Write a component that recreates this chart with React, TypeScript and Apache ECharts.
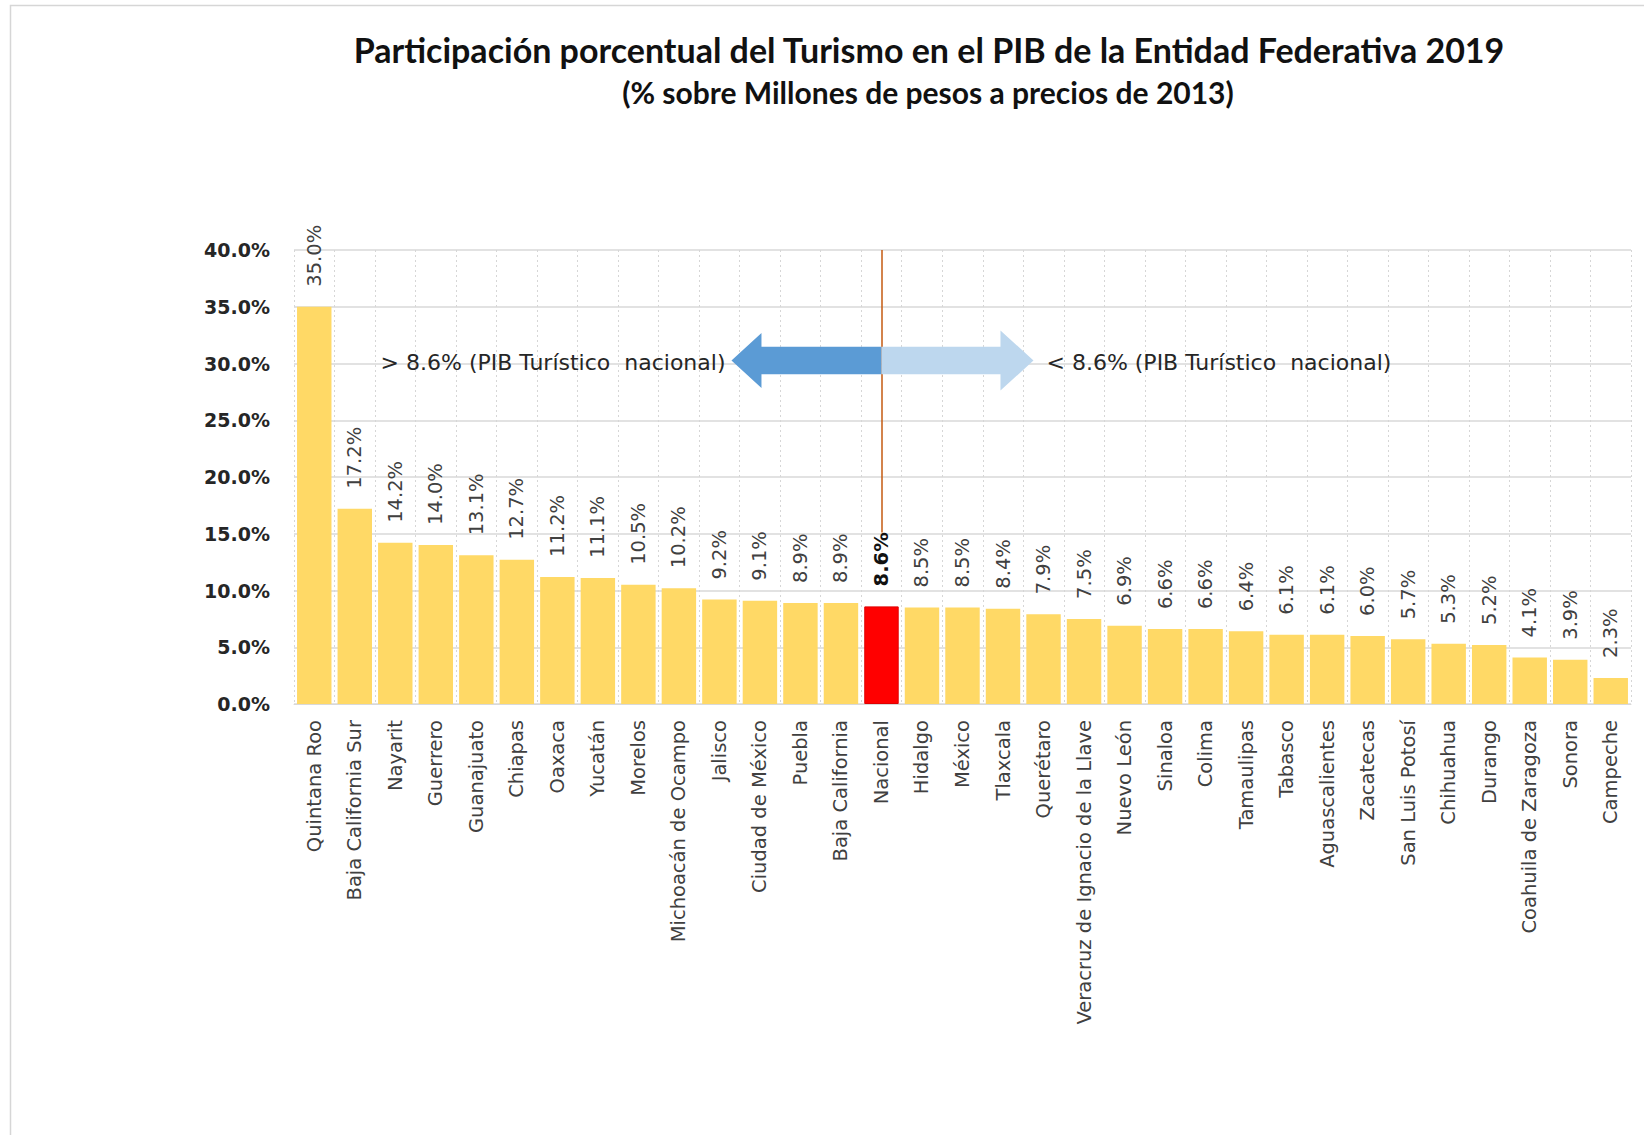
import React, { useEffect, useRef } from "react";
import * as echarts from "echarts";

const categories = [
  "Quintana Roo", "Baja California Sur", "Nayarit", "Guerrero", "Guanajuato", "Chiapas",
  "Oaxaca", "Yucatán", "Morelos", "Michoacán de Ocampo", "Jalisco", "Ciudad de México",
  "Puebla", "Baja California", "Nacional", "Hidalgo", "México", "Tlaxcala", "Querétaro",
  "Veracruz de Ignacio de la Llave", "Nuevo León", "Sinaloa", "Colima", "Tamaulipas",
  "Tabasco", "Aguascalientes", "Zacatecas", "San Luis Potosí", "Chihuahua", "Durango",
  "Coahuila de Zaragoza", "Sonora", "Campeche",
];
const values = [
  35.0, 17.2, 14.2, 14.0, 13.1, 12.7, 11.2, 11.1, 10.5, 10.2, 9.2, 9.1, 8.9, 8.9, 8.6,
  8.5, 8.5, 8.4, 7.9, 7.5, 6.9, 6.6, 6.6, 6.4, 6.1, 6.1, 6.0, 5.7, 5.3, 5.2, 4.1, 3.9, 2.3,
];
const highlightCategory = "Nacional";
const yMin = 0;
const yMax = 40;
const yInterval = 5;
const nationalLineTop = 40;
const nationalLineBottom = 15.1;
const arrowLevel = 30;
const titleText = "Participación porcentual del Turismo en el PIB de la Entidad Federativa 2019";
const subtitleText = "(% sobre Millones de pesos a precios de 2013)";
const leftNote = "> 8.6% (PIB Turístico  nacional)";
const rightNote = "< 8.6% (PIB Turístico  nacional)";

const TITLE_FONT = "Lato, 'Open Sans', sans-serif";
const FONT = "'DejaVu Sans', 'Open Sans', sans-serif";

export default function App() {
  const ref = useRef<HTMLDivElement>(null);
  useEffect(() => {
    document.body.style.margin = "0";
    const chart = echarts.init(ref.current!, undefined, { renderer: "svg" });
    const option: any = {
      animation: false,
      backgroundColor: "#ffffff",
      textStyle: { fontFamily: FONT },
      title: [
        {
          text: titleText,
          left: 924,
          top: 27,
          textAlign: "center",
          textStyle: { fontFamily: TITLE_FONT, fontSize: 34, fontWeight: "bold", color: "#111111" },
        },
        {
          text: subtitleText,
          left: 923,
          top: 72,
          textAlign: "center",
          textStyle: { fontFamily: TITLE_FONT, fontSize: 30, fontWeight: "bold", color: "#111111" },
        },
      ],
      grid: { left: 294, right: 13, top: 250, bottom: 431, containLabel: false },
      xAxis: {
        type: "category",
        data: categories,
        axisLine: { show: true, lineStyle: { color: "#D9D9D9", width: 1 } },
        axisTick: { show: false },
        splitLine: { show: true, lineStyle: { color: "#D6D6D6", type: [2, 3], width: 1 } },
        axisLabel: {
          rotate: 90,
          interval: 0,
          margin: 16,
          fontFamily: FONT,
          fontSize: 19.5,
          color: "#404040",
        },
      },
      yAxis: {
        type: "value",
        min: yMin,
        max: yMax,
        interval: yInterval,
        axisLine: { show: false },
        axisTick: { show: false },
        splitLine: { show: true, lineStyle: { color: "#D9D9D9", width: 1.5 } },
        axisLabel: {
          margin: 24,
          fontFamily: FONT,
          fontSize: 19,
          fontWeight: "bold",
          color: "#262626",
          formatter: (v: number) => v.toFixed(1) + "%",
        },
      },
      series: [
        {
          type: "bar",
          barCategoryGap: "15%",
          data: values.map((v, i) =>
            categories[i] === highlightCategory
              ? {
                  value: v,
                  itemStyle: { color: "#FF0000", borderColor: "#E00000", borderWidth: 1 },
                  label: { fontWeight: "bold", color: "#111111" },
                }
              : v
          ),
          itemStyle: { color: "#FFD966" },
          label: {
            show: true,
            position: "top",
            rotate: 90,
            align: "left",
            verticalAlign: "middle",
            distance: 20,
            fontFamily: FONT,
            fontSize: 19.5,
            color: "#404040",
            formatter: (p: any) => Number(p.value).toFixed(1) + "%",
          },
          markLine: {
            silent: true,
            symbol: "none",
            label: { show: false },
            lineStyle: { color: "#C55A11", width: 1.5, type: "solid" },
            data: [
              [
                { coord: [highlightCategory, nationalLineTop] },
                { coord: [highlightCategory, nationalLineBottom] },
              ],
            ],
          },
        },
      ],
    };
    chart.setOption(option);

    const p = chart.convertToPixel({ gridIndex: 0 } as any, [highlightCategory, arrowLevel]) as number[];
    const jx = p[0];
    const cy = p[1] - 3;
    chart.setOption({
      graphic: [
        {
          type: "rect",
          shape: { x: 10.5, y: 5.5, width: 1700, height: 1200 },
          style: { fill: "none", stroke: "#D6D6D6", lineWidth: 1.5 },
          silent: true,
          z: 0,
        },
        {
          type: "polygon",
          shape: {
            points: [
              [jx, cy - 13.7],
              [jx - 120, cy - 13.7],
              [jx - 120, cy - 27.5],
              [jx - 150, cy],
              [jx - 120, cy + 27.5],
              [jx - 120, cy + 13.7],
              [jx, cy + 13.7],
            ],
          },
          style: { fill: "#5B9BD5" },
          z: 10,
        },
        {
          type: "polygon",
          shape: {
            points: [
              [jx, cy - 13.7],
              [jx + 119, cy - 13.7],
              [jx + 119, cy - 30],
              [jx + 152, cy],
              [jx + 119, cy + 30],
              [jx + 119, cy + 13.7],
              [jx, cy + 13.7],
            ],
          },
          style: { fill: "#BDD7EE" },
          z: 10,
        },
        {
          type: "text",
          x: jx - 156,
          y: cy + 2,
          style: {
            text: leftNote,
            fontFamily: FONT,
            fontSize: 22,
            fill: "#262626",
            align: "right",
            verticalAlign: "middle",
          },
          z: 10,
        },
        {
          type: "text",
          x: jx + 165,
          y: cy + 2,
          style: {
            text: rightNote,
            fontFamily: FONT,
            fontSize: 22,
            fill: "#262626",
            align: "left",
            verticalAlign: "middle",
          },
          z: 10,
        },
      ],
    });

    return () => chart.dispose();
  }, []);
  return <div ref={ref} style={{ width: 1644, height: 1135 }} />;
}
